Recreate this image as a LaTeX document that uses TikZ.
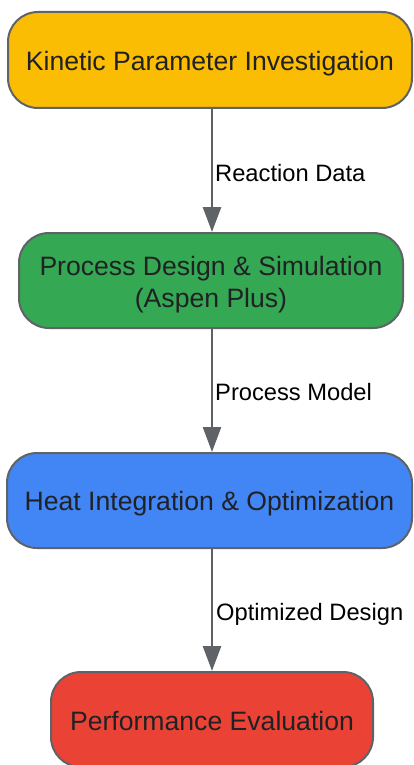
\documentclass[tikz,border=0pt]{standalone}
\usepackage{fontspec}
\setmainfont{Liberation Sans}
\usetikzlibrary{arrows.meta}
\definecolor{cyellow}{HTML}{FBBC04}
\definecolor{cgreen}{HTML}{34A853}
\definecolor{cblue}{HTML}{4285F4}
\definecolor{cred}{HTML}{EA4335}
\definecolor{cline}{HTML}{5F6368}
\definecolor{ctext}{HTML}{202124}
\tikzset{
  stagebox/.style={draw=cline, line width=2pt, rounded corners=30pt,
    text=ctext, font=\fontsize{26.6}{32}\selectfont, inner sep=0pt,
    text height=21pt, text depth=0pt},
  flowarrow/.style={draw=cline, line width=2.6pt, -{Triangle[length=25pt,width=18pt]}},
  flowlabel/.style={anchor=west, inner sep=0pt, text=black, font=\fontsize{23.7}{28}\selectfont,
    text height=17pt, text depth=0pt}
}
\begin{document}
\begin{tikzpicture}[x=1pt,y=-1pt]
\useasboundingbox (0,0) rectangle (413,765);
\node[stagebox, fill=cyellow, minimum width=404pt, minimum height=96pt] (b1) at (210,60) {Kinetic Parameter Investigation};
\node[stagebox, fill=cgreen, minimum width=384pt, minimum height=95pt, text height=20pt, text depth=30pt] (b2) at (211,280.5) {\parbox[t]{384pt}{\centering Process Design \& Simulation\\(Aspen Plus)}};
\node[stagebox, fill=cblue, minimum width=405pt, minimum height=95pt, text height=20pt] (b3) at (209.5,500.5) {Heat Integration \& Optimization};
\node[stagebox, fill=cred, minimum width=322pt, minimum height=95pt] (b4) at (212,719.5) {Performance Evaluation};
\coordinate (axis) at (212,0);
\draw[flowarrow] (b1.south -| axis) -- (b2.north -| axis);
\draw[flowarrow] (b2.south -| axis) -- (b3.north -| axis);
\draw[flowarrow] (b3.south -| axis) -- (b4.north -| axis);
\node[flowlabel] (l1) at (215,172.5) {Reaction Data};
\node[flowlabel] (l2) at (215,391.5) {Process Model};
\node[flowlabel] (l3) at (216,611.5) {Optimized Design};
\end{tikzpicture}
\end{document}
